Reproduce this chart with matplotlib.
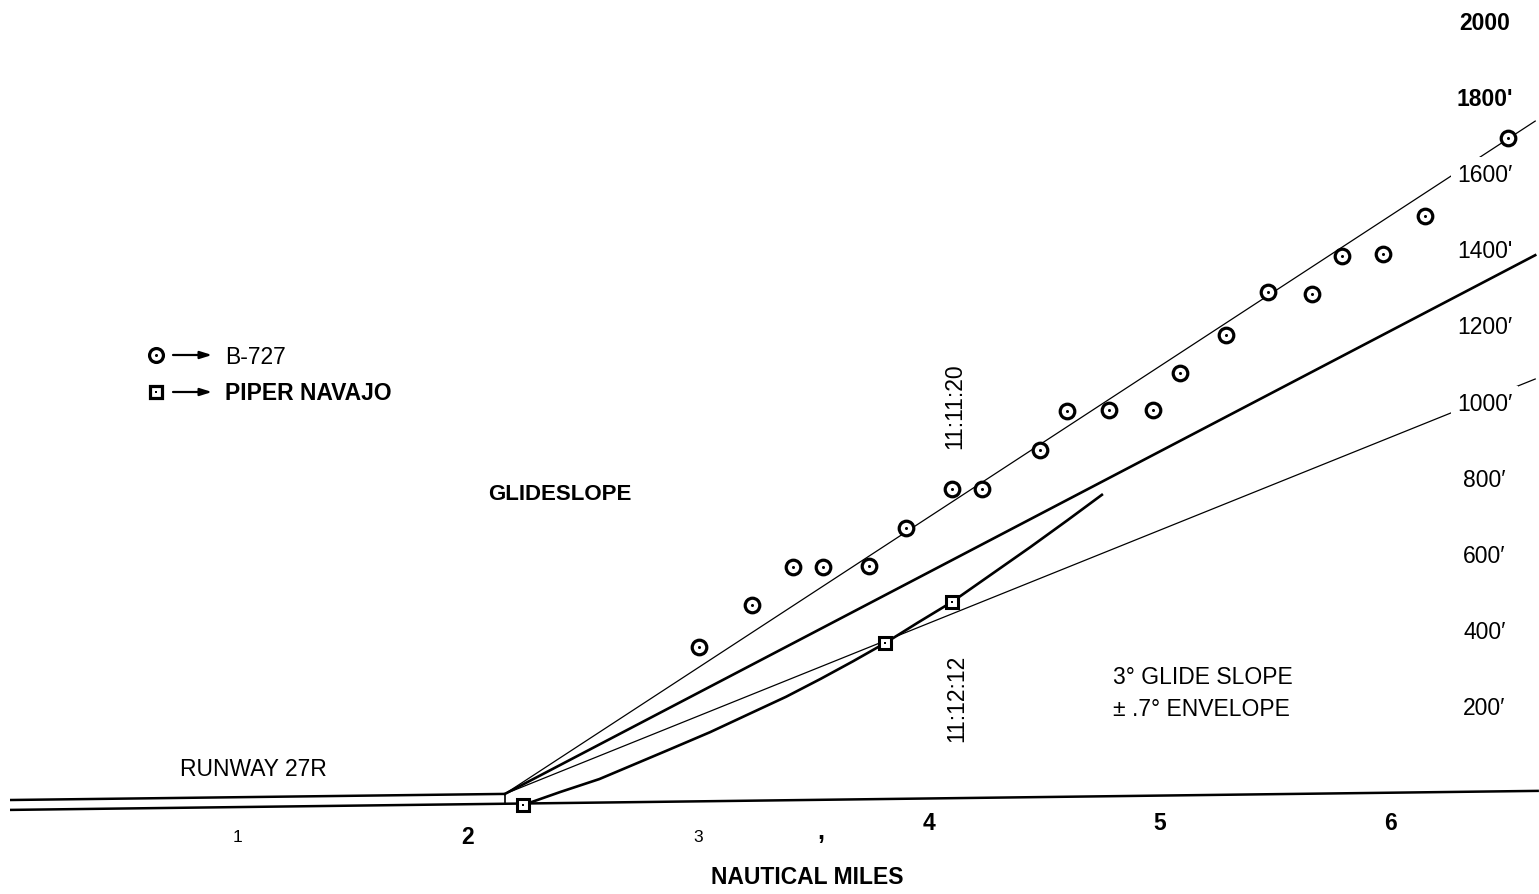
import matplotlib
matplotlib.use("Agg")
import matplotlib.pyplot as plt

# ---------------- data ----------------
# B-727 positions: distance (nautical miles) and altitude (feet)
b727_nm = [3.00, 3.23, 3.41, 3.54, 3.74, 3.90, 4.10, 4.23, 4.48, 4.60,
           4.78, 4.97, 5.09, 5.29, 5.47, 5.66, 5.79, 5.97, 6.15, 6.51]
b727_ft = [360, 470, 570, 570, 572, 672, 774, 774, 877, 979,
           982, 982, 1079, 1179, 1291, 1286, 1386, 1391, 1491, 1696]

# Piper Navajo marked positions
navajo_nm = [2.24, 3.81, 4.10]
navajo_ft = [-55, 370, 478]

# Piper Navajo flight path (traced)
navajo_path_nm = [2.24, 2.40, 2.57, 2.86, 3.05, 3.22, 3.38, 3.53, 3.67, 3.81,
                  3.95, 4.10, 4.27, 4.44, 4.60, 4.75]
navajo_path_ft = [-55, -21, 13, 87, 136, 184, 229, 276, 322, 370,
                  423, 478, 550, 622, 692, 759]

# Glideslope (3 deg) and +/- 0.7 deg envelope: start / end points
gs_start_nm, gs_start_ft = 2.16, -26
gs_end_nm = 6.63
gs_upper_end_ft = 1740   # 3.7 deg
gs_center_end_ft = 1388  # 3.0 deg
gs_lower_end_ft = 1063   # 2.3 deg

# Runway / ground
ground_nm = [0.013, 6.646]
ground_ft = [-68, -18]
runway_top_nm = [0.013, 2.16]
runway_top_ft = [-42, -26]
runway_end_ft = [-26, -53]

# axis labels
altitude_values = [200, 400, 600, 800, 1000, 1200, 1400, 1600, 1800, 2000]
altitude_labels = ["200′", "400′", "600′", "800′", "1000′", "1200′",
                   "1400'", "1600′", "1800'", "2000"]
distance_values = [1, 2, 3, 4, 5, 6]
distance_labels = ["1", "2", "3", "4", "5", "6"]

# ---------------- figure ----------------
W, H = 1539, 895
fig = plt.figure(figsize=(W / 100, H / 100), dpi=100)
ax = fig.add_axes([0, 0, 1, 1])
ax.set_xlim(-0.0304, 6.6464)
ax.set_ylim(-288.7, 2060.4)
ax.axis("off")

FONT = ["Liberation Sans", "DejaVu Sans"]
plt.rcParams["font.family"] = FONT
FS = 16.5


def fx(px):
    return px / W


def fy(py):
    return 1 - py / H


K = "black"

# runway & ground
ax.plot(ground_nm, ground_ft, color=K, lw=1.8, solid_capstyle="butt")
ax.plot(runway_top_nm, runway_top_ft, color=K, lw=1.8, solid_capstyle="butt")
ax.plot([runway_top_nm[1], runway_top_nm[1]], runway_end_ft, color=K, lw=1.2)

# glideslope lines
ax.plot([gs_start_nm, gs_end_nm], [gs_start_ft, gs_upper_end_ft], color=K, lw=0.9)
ax.plot([gs_start_nm, gs_end_nm], [gs_start_ft, gs_center_end_ft], color=K,
        lw=1.9, zorder=8)
ax.plot([gs_start_nm, gs_end_nm], [gs_start_ft, gs_lower_end_ft], color=K, lw=0.9)

# Navajo path
ax.plot(navajo_path_nm, navajo_path_ft, color=K, lw=1.9, zorder=3)

# markers
ax.plot(b727_nm, b727_ft, linestyle="none", marker="o", ms=10.5,
        mfc="white", mec=K, mew=2.3, zorder=9)
ax.plot(b727_nm, b727_ft, linestyle="none", marker="o", ms=2.2,
        mfc=K, mec=K, mew=0, zorder=10)
ax.plot(navajo_nm, navajo_ft, linestyle="none", marker="s", ms=8.6,
        mfc="white", mec=K, mew=2.2, zorder=9)
ax.plot(navajo_nm, navajo_ft, linestyle="none", marker="s", ms=2.0,
        mfc=K, mec=K, mew=0, zorder=10)

# altitude labels (right side); labels crossed by the envelope lines mask them
bold_alt = {"2000", "1800'"}
masked_alt = {"1000′", "1600′"}
for v, lab in zip(altitude_values, altitude_labels):
    kw = {}
    if lab in masked_alt:
        kw["bbox"] = dict(boxstyle="square,pad=0.25", fc="white", ec="none")
    ax.text(6.41, v, lab, ha="center", va="center", fontsize=FS,
            fontweight="bold" if lab in bold_alt else "normal",
            zorder=7, **kw)

# distance labels (bottom)
for v, lab in zip(distance_values, distance_labels):
    if lab in ("1", "3"):
        ax.text(v, -139, lab, ha="center", va="center", fontsize=12.5)
    elif lab == "2":
        ax.text(v, -139, lab, ha="center", va="center", fontsize=FS,
                fontweight="bold")
    else:
        ax.text(v, -100, lab, ha="center", va="center", fontsize=FS,
                fontweight="bold")
fig.text(fx(821), fy(832), ",", ha="center", va="center", fontsize=18,
         fontweight="bold")
fig.text(fx(807), fy(878), "NAUTICAL MILES", ha="center", va="center",
         fontsize=16.5, fontweight="bold")

# annotations
fig.text(fx(253), fy(770), "RUNWAY 27R", ha="center", va="center", fontsize=FS)
fig.text(fx(560), fy(495), "GLIDESLOPE", ha="center", va="center",
         fontsize=16, fontweight="bold")
fig.text(fx(955), fy(406), "11:11:20", ha="center", va="center",
         fontsize=FS, rotation=90)
fig.text(fx(957), fy(698), "11:12:12", ha="center", va="center",
         fontsize=FS, rotation=90)
fig.text(fx(1113), fy(678), "3° GLIDE SLOPE", ha="left", va="center",
         fontsize=FS)
fig.text(fx(1113), fy(710), "± .7° ENVELOPE", ha="left", va="center",
         fontsize=FS)

# legend
leg_ax = fig.add_axes([0, 0, 1, 1], facecolor="none")
leg_ax.set_xlim(0, W)
leg_ax.set_ylim(H, 0)
leg_ax.axis("off")
leg_ax.plot([156], [356], marker="o", ms=10, mfc="white", mec=K, mew=2.3)
leg_ax.plot([156], [356], marker="o", ms=2.2, mfc=K, mec=K, mew=0)
leg_ax.plot([156], [393], marker="s", ms=8.6, mfc="white", mec=K, mew=2.3)
leg_ax.plot([156], [393], marker="s", ms=2.0, mfc=K, mec=K, mew=0)
for yy in (356, 393):
    leg_ax.annotate("", xy=(212, yy), xytext=(173, yy),
                    arrowprops=dict(arrowstyle="-|>,head_length=0.7,head_width=0.22",
                                    color=K, lw=1.6, shrinkA=0, shrinkB=0))
leg_ax.text(225, 357, "B-727", ha="left", va="center", fontsize=FS)
leg_ax.text(225, 394, "PIPER NAVAJO", ha="left", va="center", fontsize=FS,
            fontweight="bold")

fig.savefig("out.png", dpi=100, facecolor="white")
